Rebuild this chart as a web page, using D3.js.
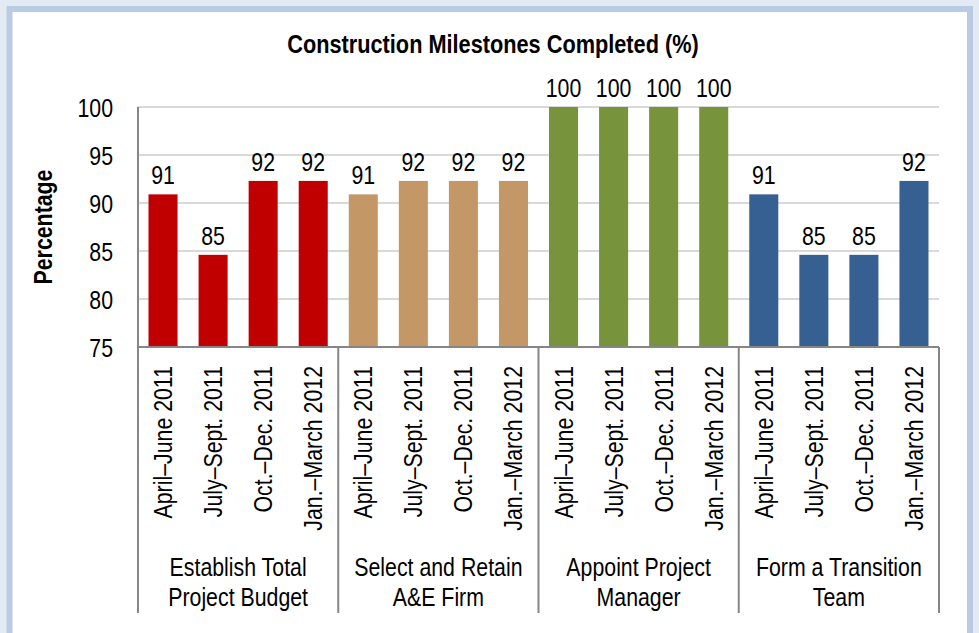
<!DOCTYPE html>
<html><head><meta charset="utf-8">
<script src="https://cdn.jsdelivr.net/npm/d3@7"></script>
<style>
html,body{margin:0;padding:0;background:#E4EAF3;}
svg{display:block;}
text{font-family:"Liberation Sans",Arial,sans-serif;fill:#000;}
</style></head>
<body>
<svg id="chart" width="979" height="633"></svg>
<script>
const groups = ["Establish Total|Project Budget","Select and Retain|A&E Firm","Appoint Project|Manager","Form a Transition|Team"];
const periods = ["April\u2013June 2011","July\u2013Sept. 2011","Oct.\u2013Dec. 2011","Jan.\u2013March 2012"];
const budgetValues = [90.9, 84.6, 92.3, 92.3];
const firmValues = [90.9, 92.3, 92.3, 92.3];
const managerValues = [100, 100, 100, 100];
const teamValues = [90.9, 84.6, 84.6, 92.3];
const valueLabels = [["91","85","92","92"],["91","92","92","92"],["100","100","100","100"],["91","85","85","92"]];
const groupColors = ["#C00000","#C49767","#77933C","#366092"];
const yTicks = [75,80,85,90,95,100];

const seriesValues = [budgetValues, firmValues, managerValues, teamValues];
const data = [];
groups.forEach((g,gi)=>periods.forEach((p,pi)=>data.push({g:gi,p:pi,key:gi+"-"+pi,v:seriesValues[gi][pi],lab:valueLabels[gi][pi]})));

const N = 0.82; // narrow-font horizontal scale
const FS = 26;
const svg = d3.select("#chart");
// outer frame
svg.append("rect").attr("x",9.5).attr("y",9).attr("width",960.5).attr("height",640)
  .attr("fill","#fff").attr("stroke","#B9CCE4").attr("stroke-width",6);

const L=138, R=939, T=107, B=347;
const x = d3.scaleBand().domain(data.map(d=>d.key)).range([L,R]).paddingInner(0.42).paddingOuter(0.21);
const xg = d3.scaleBand().domain(d3.range(groups.length)).range([L,R]);
const y = d3.scaleLinear().domain([75,100]).range([B,T]);

// gridlines
svg.append("g").selectAll("line").data(yTicks.filter(t=>t>75)).join("line")
  .attr("x1",L).attr("x2",R).attr("y1",d=>y(d)).attr("y2",d=>y(d))
  .attr("stroke","#D9D9D9").attr("stroke-width",2);

// y axis
const yAxis = d3.axisLeft(y).tickValues(yTicks).tickSize(0).tickPadding(0);
const ya = svg.append("g").attr("transform",`translate(${L},0)`).call(yAxis);
ya.select(".domain").remove();
ya.attr("font-family",null).attr("font-size",null);
ya.selectAll("text").attr("x",0).attr("dy","0.36em").attr("font-size",FS).attr("fill","#000")
  .attr("text-anchor","end").attr("transform",`translate(-25,0) scale(${N},1)`);

// bars
svg.append("g").selectAll("rect").data(data).join("rect")
  .attr("x",d=>x(d.key)).attr("width",x.bandwidth())
  .attr("y",d=>y(d.v)).attr("height",d=>B-y(d.v))
  .attr("fill",d=>groupColors[d.g]);

// value labels
svg.append("g").selectAll("text").data(data).join("text")
  .attr("transform",d=>`translate(${x(d.key)+x.bandwidth()/2},${y(d.v)-10}) scale(${N},1)`)
  .attr("text-anchor","middle").attr("font-size",FS).text(d=>d.lab);

// axis lines
svg.append("line").attr("x1",L).attr("x2",L).attr("y1",T).attr("y2",B).attr("stroke","#868686").attr("stroke-width",2);
svg.append("line").attr("x1",L).attr("x2",R).attr("y1",B).attr("y2",B).attr("stroke","#868686").attr("stroke-width",2);

// group separators
svg.append("g").selectAll("line").data(d3.range(groups.length+1)).join("line")
  .attr("x1",d=>d<groups.length?xg(d):R).attr("x2",d=>d<groups.length?xg(d):R)
  .attr("y1",B).attr("y2",613).attr("stroke","#868686").attr("stroke-width",2);

// period labels (rotated)
svg.append("g").selectAll("text").data(data).join("text")
  .attr("transform",d=>`translate(${x(d.key)+x.bandwidth()/2+9},366) rotate(-90) scale(${N},1)`)
  .attr("text-anchor","end").attr("font-size",FS).text(d=>periods[d.p]);

// group labels
const gl = svg.append("g").selectAll("g").data(groups).join("g")
  .attr("transform",(d,i)=>`translate(${xg(i)+xg.bandwidth()/2},576) scale(${N},1)`);
gl.each(function(d){
  const g=d3.select(this);
  d.split("|").forEach((s,i)=>g.append("text").attr("y",i*30).attr("text-anchor","middle").attr("font-size",FS).text(s));
});

// title
svg.append("text").attr("transform",`translate(493,53) scale(${N},1)`).attr("text-anchor","middle")
  .attr("font-size",26.5).attr("font-weight","bold").text("Construction Milestones Completed (%)");

// y title
svg.append("text").attr("transform",`translate(52,227) rotate(-90) scale(${N},1)`).attr("text-anchor","middle")
  .attr("font-size",FS).attr("font-weight","bold").text("Percentage");
</script>
</body></html>
